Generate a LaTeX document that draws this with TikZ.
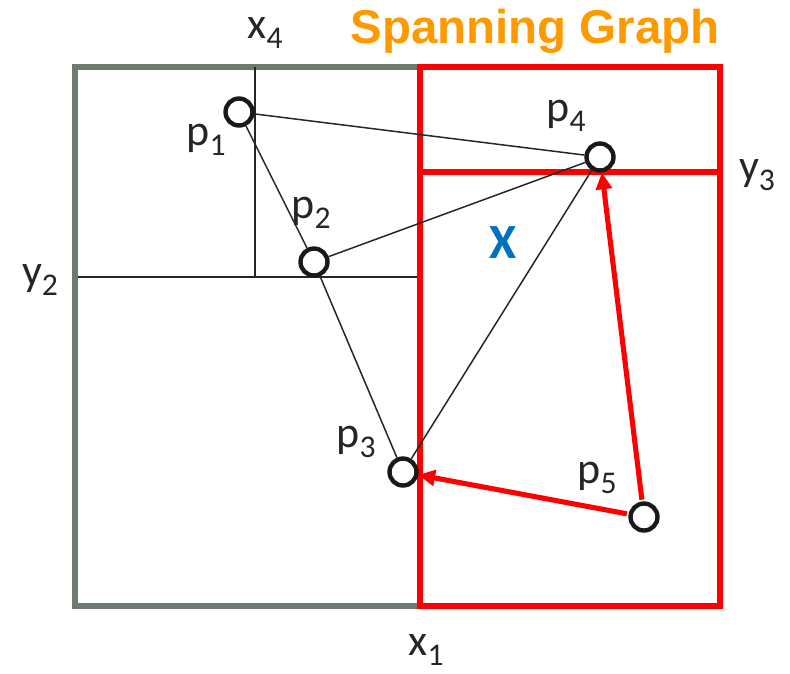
\documentclass[tikz,border=0pt]{standalone}
\usepackage{fontspec}
\setmainfont{Carlito}
\newfontfamily\arialfont{Liberation Sans}
\usetikzlibrary{arrows.meta}
\definecolor{frameGray}{RGB}{110,122,112}
\definecolor{titleOrange}{RGB}{255,153,0}
\definecolor{xBlue}{RGB}{0,112,192}
\newcommand{\lsub}[1]{\raisebox{-0.5ex}{\fontsize{18}{20}\selectfont #1}}

\begin{document}
\begin{tikzpicture}[
    x=0.02cm, y=-0.02cm,
    >={Triangle[length=9.5pt, width=9pt]},
    lbl/.style={font=\fontsize{25}{28}\selectfont, text=black!85, inner sep=0pt},
    pt/.style={draw=black!90, circle, line width=2.5pt, fill=white, minimum size=0.54cm, inner sep=0pt},
    thin_line/.style={draw=black!85, line width=0.85pt},
    red_frame/.style={draw=red, line width=2.9pt},
    red_arrow/.style={->, draw=red, line width=2.9pt, shorten <=1pt}
]
\useasboundingbox (0,0) rectangle (790,673);

% FRAMES
\draw[frameGray, line width=2.9pt] (420,67) -- (75,67) -- (75,606) -- (420,606);
\draw[thin_line] (78,277) -- (420,277);
\draw[thin_line] (255,67) -- (255,278);
\draw[red_frame] (420,67) rectangle (720,606);
\draw[red_frame] (420,172) -- (720,172);

% POINTS
\node[pt] (p1) at (239,112) {};
\node[pt] (p2) at (314,262) {};
\node[pt] (p3) at (403,472) {};
\node[pt] (p4) at (600,157) {};
\node[pt] (p5) at (644,517) {};

% EDGES
\draw[thin_line] (p1) -- (p4);
\draw[thin_line] (p1) -- (p2);
\draw[thin_line] (p2) -- (p4);
\draw[thin_line] (p2) -- (p3);
\draw[thin_line] (p3) -- (p4);
\draw[red_arrow] (p5) -- (p4);
\draw[red_arrow] (p5) -- (p3);

% LABELS
\node[lbl] (l1) at (206,140) {p\lsub{1}};
\node[lbl] (l2) at (311,213) {p\lsub{2}};
\node[lbl] (l3) at (356,442) {p\lsub{3}};
\node[lbl] (l4) at (566,116) {p\lsub{4}};
\node[lbl] (l5) at (597,478) {p\lsub{5}};
\node[lbl] (lx4) at (265,33) {x\lsub{4}};
\node[lbl] (ly2) at (40,280) {y\lsub{2}};
\node[lbl] (ly3) at (757,175) {y\lsub{3}};
\node[lbl] (lx1) at (426,650) {x\lsub{1}};
\node[lbl, font=\fontsize{28}{30}\selectfont\bfseries, text=xBlue] (lX) at (503,243) {X};
\node[font=\arialfont\fontsize{27}{30}\selectfont\bfseries, text=titleOrange, inner sep=0pt] (title) at (535,31) {Spanning Graph};
\end{tikzpicture}
\end{document}
